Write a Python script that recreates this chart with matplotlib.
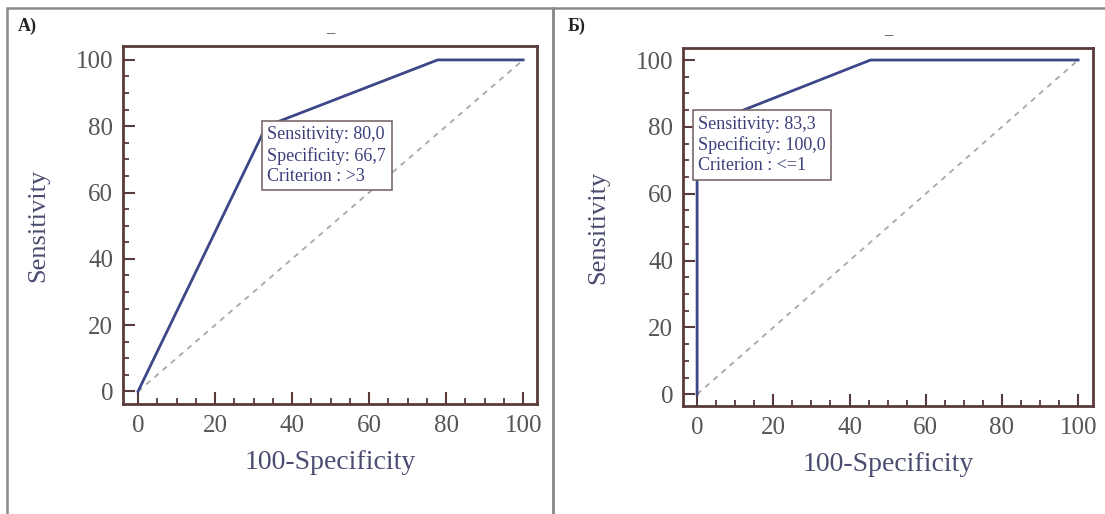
import matplotlib
matplotlib.use("Agg")
import matplotlib.pyplot as plt
from matplotlib.patches import Rectangle
from matplotlib.ticker import MultipleLocator

plt.rcParams['font.family'] = ['Liberation Serif', 'DejaVu Serif']

# ROC curve A
fpr_a = [0, 33.3, 77.8, 100]
sens_a = [0, 80.0, 100, 100]
crit_a = (33.3, 80.0)
text_a = "Sensitivity: 80,0\nSpecificity: 66,7\nCriterion : >3"

# ROC curve Б
fpr_b = [0, 0, 8.3, 45.5, 100]
sens_b = [0, 83.3, 83.3, 100, 100]
crit_b = (0, 83.3)
text_b = "Sensitivity: 83,3\nSpecificity: 100,0\nCriterion : <=1"

panel_labels = ["A)", "Б)"]

line_col = "#3d4787"
spine_col = "#5a3b3b"
label_col = "#4a4d70"
tick_col = "#555555"

fig = plt.figure(figsize=(11.05, 5.14), dpi=100)

# panel frames
W, H = 1105, 514
for x0, x1 in [(7, 553), (553, 1140)]:
    fig.patches.append(Rectangle((x0 / W, -0.05), (x1 - x0) / W, 1.05 - 8 / H,
                                 transform=fig.transFigure, fill=False,
                                 edgecolor="#8a8a8a", linewidth=1.8))

axes_pos = [
    [123 / W, 1 - 404 / H, (537 - 123) / W, (404 - 46) / H],
    [683 / W, 1 - 406 / H, (1093 - 683) / W, (406 - 48) / H],
]
limits = [((-3.9, 103.6), (-3.8, 104.2)), ((-3.7, 103.9), (-3.5, 103.6))]
curves = [(fpr_a, sens_a, crit_a, text_a), (fpr_b, sens_b, crit_b, text_b)]
label_x = [18 / W, 568 / W]

for i in range(2):
    ax = fig.add_axes(axes_pos[i])
    fpr, sens, crit, txt = curves[i]
    ax.plot([0, 100], [0, 100], color="#a8a8a8", lw=1.3, ls=(0, (3, 3)))
    ax.plot(fpr, sens, color=line_col, lw=2)
    ax.text(crit[0] + 0.3, crit[1], txt, ha="left", va="top", fontsize=13,
            color="#3b3f7a", linespacing=1.25,
            bbox=dict(boxstyle="square,pad=0.3", fc="white", ec="#7a6a6a", lw=1.2))
    ax.set_xlim(*limits[i][0])
    ax.set_ylim(*limits[i][1])
    ax.xaxis.set_major_locator(MultipleLocator(20))
    ax.xaxis.set_minor_locator(MultipleLocator(5))
    ax.yaxis.set_major_locator(MultipleLocator(20))
    ax.yaxis.set_minor_locator(MultipleLocator(5))
    ax.tick_params(which="both", direction="in", color=spine_col, top=False, right=False)
    ax.tick_params(which="major", length=8.5, width=1.5, labelsize=18, labelcolor=tick_col)
    ax.tick_params(which="minor", length=4.5, width=1.3)
    ax.tick_params(axis="x", which="major", pad=8)
    ax.tick_params(axis="y", which="major", pad=7)
    for s in ax.spines.values():
        s.set_color(spine_col)
        s.set_linewidth(2)
    ax.set_xlabel("100-Specificity", fontsize=20, color=label_col, labelpad=9)
    ax.set_ylabel("Sensitivity", fontsize=19, color=label_col, labelpad=19)
    ax.set_title("_", fontsize=12, color="#444444", pad=10)
    fig.text(label_x[i], 1 - 31 / H, panel_labels[i], fontsize=13, fontweight="bold",
             color="#222222")

fig.savefig("out.png", dpi=100)
